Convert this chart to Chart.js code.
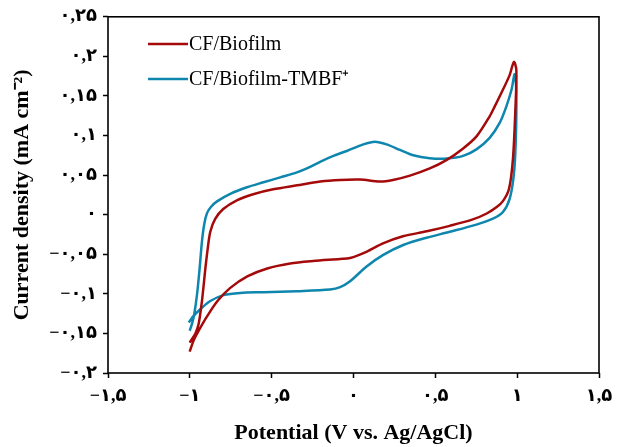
<!DOCTYPE html>
<html>
<head>
<meta charset="utf-8">
<script src="https://cdn.jsdelivr.net/npm/chart.js@4/dist/chart.umd.min.js"></script>
<style>
  html, body { margin: 0; padding: 0; background: #fff; }
  #wrap { width: 625px; height: 447px; position: relative; }
</style>
</head>
<body>
<div id="wrap"><canvas id="cv"></canvas></div>
<script>
// series labels
const seriesNames = ['CF/Biofilm', 'CF/Biofilm-TMBF\u207A'];

// CF/Biofilm: potential (V) and current density (mA cm-2), forward scan then reverse
const biofilmPotential = [
  -1.001, -0.966, -0.946, -0.926, -0.905, -0.893, -0.875, -0.845, -0.796, -0.710,
  -0.613, -0.491, -0.345, -0.204, -0.082, 0.040, 0.162, 0.241, 0.345, 0.466,
  0.570, 0.668, 0.753, 0.832, 0.863, 0.912, 0.954, 0.980,
  0.995, 0.989, 0.974, 0.950, 0.913, 0.875, 0.814, 0.729, 0.588, 0.448,
  0.302, 0.180, 0.082, -0.021, -0.082, -0.247, -0.387, -0.527, -0.649, -0.753,
  -0.831, -0.893, -0.946, -0.977, -1.001
];
const biofilmCurrent = [
  -0.1616, -0.150, -0.1379, -0.1091, -0.0679, -0.0466, -0.0216, -0.0054, 0.0071, 0.0184,
  0.0259, 0.0321, 0.0371, 0.0418, 0.0438, 0.0443, 0.0418, 0.0438, 0.0493, 0.0584,
  0.0693, 0.0834, 0.0993, 0.1243, 0.1368, 0.1575, 0.1763, 0.193,
  0.1825, 0.1325, 0.070, 0.0325, 0.0171, 0.0096, 0.0015, -0.006, -0.0141, -0.021,
  -0.0273, -0.0363, -0.0466, -0.0548, -0.056, -0.0585, -0.0616, -0.0679, -0.0779, -0.0925,
  -0.1091, -0.1279, -0.1466, -0.1591, -0.1729
];

// CF/Biofilm-TMBF+
const tmbfPotential = [
  -1.001, -0.987, -0.973, -0.956, -0.940, -0.926, -0.912, -0.895, -0.870, -0.834, -0.753,
  -0.651, -0.550, -0.448, -0.346, -0.285, -0.204, -0.123, -0.041, 0.060, 0.131,
  0.202, 0.284, 0.365, 0.466, 0.568, 0.670, 0.751, 0.832, 0.893, 0.934,
  0.965, 0.985,
  0.995, 0.991, 0.979, 0.954, 0.913, 0.852, 0.751, 0.588, 0.446, 0.304,
  0.182, 0.080, -0.021, -0.082, -0.143, -0.346, -0.550, -0.692, -0.794, -0.875,
  -0.936, -0.977, -1.007
];
const tmbfCurrent = [
  -0.1466, -0.138, -0.1258, -0.1008, -0.0675, -0.034, -0.012, 0.002, 0.010, 0.0168, 0.0263,
  0.0346, 0.0409, 0.0471, 0.0534, 0.0584, 0.0668, 0.0743, 0.0805, 0.0888, 0.0921,
  0.0888, 0.0818, 0.075, 0.0713, 0.0709, 0.0743, 0.0825, 0.0971, 0.1159, 0.1368,
  0.1575, 0.1775,
  0.1534, 0.0909, 0.0493, 0.020, 0.0034, -0.005, -0.0125, -0.0216, -0.0291, -0.0383,
  -0.0508, -0.0654, -0.0841, -0.0916, -0.0945, -0.0966, -0.0979, -0.0988, -0.1016, -0.1091,
  -0.1195, -0.1279, -0.1363
];

// tick labels (Persian digits, as in the figure)
const xTickLabels = ['\u2212\u06F1,\u06F5', '\u2212\u06F1', '\u2212\u06F0,\u06F5', '\u06F0', '\u06F0,\u06F5', '\u06F1', '\u06F1,\u06F5'];
const yTickLabels = ['\u2212\u06F0,\u06F2', '\u2212\u06F0,\u06F1\u06F5', '\u2212\u06F0,\u06F1', '\u2212\u06F0,\u06F0\u06F5', '\u06F0',
  '\u06F0,\u06F0\u06F5', '\u06F0,\u06F1', '\u06F0,\u06F1\u06F5', '\u06F0,\u06F2', '\u06F0,\u06F2\u06F5'];

const xTitle = 'Potential (V vs. Ag/AgCl)';
const yTitle = 'Current density (mA cm\u207B\u00B2)';

function toPoints(xs, ys) {
  return xs.map((x, i) => ({ x: x, y: ys[i] }));
}

// box round the plot area
const frame = {
  id: 'frame',
  afterDraw(chart) {
    const { ctx, chartArea: a } = chart;
    ctx.save();
    ctx.strokeStyle = '#000';
    ctx.lineWidth = 1.6;
    ctx.strokeRect(a.left, a.top, a.right - a.left, a.bottom - a.top);
    ctx.restore();
  }
};

// legend inside the plot, line + label
const innerLegend = {
  id: 'innerLegend',
  afterDraw(chart) {
    const ctx = chart.ctx;
    ctx.save();
    ctx.font = '20px "Liberation Serif", "Times New Roman", serif';
    ctx.textBaseline = 'middle';
    ctx.fillStyle = '#000';
    chart.data.datasets.forEach((ds, i) => {
      const y = 44 + i * 35;
      ctx.strokeStyle = ds.borderColor;
      ctx.lineWidth = 2.5;
      ctx.beginPath();
      ctx.moveTo(148, y);
      ctx.lineTo(188, y);
      ctx.stroke();
      ctx.fillText(ds.label, 189, y + 1);
    });
    ctx.restore();
  }
};

const tickFont = { family: '"Liberation Serif", "DejaVu Sans", serif', size: 18, weight: 'bold' };
const titleFont = { family: '"Liberation Serif", "Times New Roman", serif', size: 22, weight: 'bold' };

new Chart(document.getElementById('cv'), {
  type: 'scatter',
  data: {
    datasets: [
      {
        label: seriesNames[0],
        data: toPoints(biofilmPotential, biofilmCurrent),
        borderColor: '#a50a0a',
        showLine: true,
        borderWidth: 2.5,
        pointRadius: 0,
        tension: 0.3
      },
      {
        label: seriesNames[1],
        data: toPoints(tmbfPotential, tmbfCurrent),
        borderColor: '#0e86ad',
        showLine: true,
        borderWidth: 2.5,
        pointRadius: 0,
        tension: 0.3
      }
    ]
  },
  options: {
    responsive: true,
    maintainAspectRatio: false,
    animation: false,
    layout: { padding: { left: 0, right: 26, top: 13, bottom: 0 } },
    plugins: {
      legend: { display: false },
      tooltip: { enabled: false }
    },
    scales: {
      x: {
        type: 'linear',
        min: -1.5,
        max: 1.5,
        afterFit(scale) { scale.height = 74; },
        border: { display: false },
        grid: { drawOnChartArea: false, tickLength: 5, tickColor: '#000', tickWidth: 1.5 },
        ticks: {
          stepSize: 0.5,
          color: '#000',
          font: tickFont,
          padding: 8,
          maxRotation: 0,
          callback: (v, i) => xTickLabels[i]
        },
        title: { display: true, text: xTitle, color: '#000', font: titleFont, padding: { top: 0, bottom: 0 } }
      },
      y: {
        type: 'linear',
        min: -0.2,
        max: 0.25,
        afterFit(scale) { scale.width = 108; },
        border: { display: false },
        grid: { drawOnChartArea: false, tickLength: 5, tickColor: '#000', tickWidth: 1.5 },
        ticks: {
          stepSize: 0.05,
          color: '#000',
          font: tickFont,
          padding: 6,
          callback: (v, i) => yTickLabels[i]
        },
        title: { display: true, text: yTitle, color: '#000', font: titleFont, padding: { top: 9, bottom: 0 } }
      }
    }
  },
  plugins: [frame, innerLegend]
});
</script>
</body>
</html>
